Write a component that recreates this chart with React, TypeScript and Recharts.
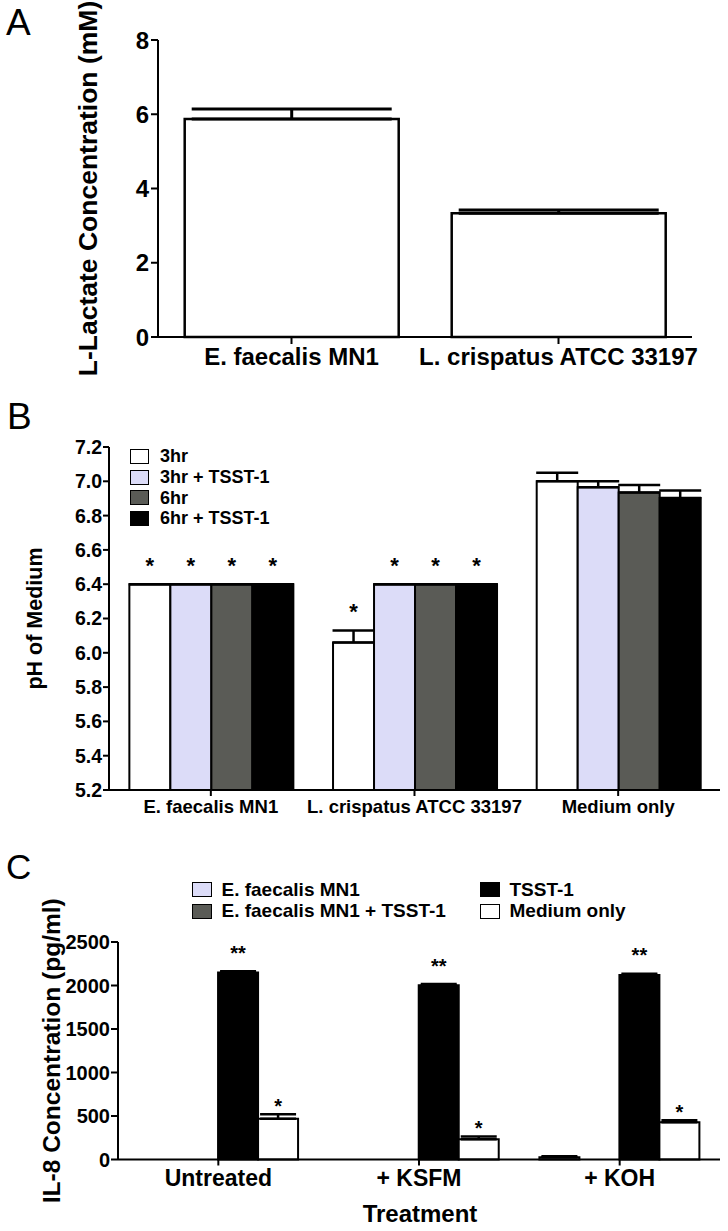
import React from 'react';
import { BarChart, Bar, XAxis, YAxis, ErrorBar, LabelList, Legend } from 'recharts';

const FONT = "'Liberation Sans', Arial, Helvetica, sans-serif";
const LAVENDER = '#dcdcf8';
const DARK_GRAY = '#5a5b56';

// A: L-lactate
const lactateStrains = ['E. faecalis MN1', 'L. crispatus ATCC 33197'];
const lactateMean = [5.87, 3.33];
const lactateSem = [0.27, 0.09];
const lactateTicks = [0, 2, 4, 6, 8];

// B: pH of medium
const phGroups = ['E. faecalis MN1', 'L. crispatus ATCC 33197', 'Medium only'];
const ph3hr = [6.4, 6.06, 7.0];
const ph3hrSem = [0, 0.07, 0.05];
const ph3hrTsst = [6.4, 6.4, 6.965];
const ph3hrTsstSem = [0, 0, 0.035];
const ph6hr = [6.4, 6.4, 6.935];
const ph6hrSem = [0, 0, 0.043];
const ph6hrTsst = [6.4, 6.4, 6.902];
const ph6hrTsstSem = [0, 0, 0.045];
const phStars = ['*', '*', ''];
const phTicks = [5.2, 5.4, 5.6, 5.8, 6.0, 6.2, 6.4, 6.6, 6.8, 7.0, 7.2];

// C: IL-8
const treatments = ['Untreated', '+ KSFM', '+ KOH'];
const il8Ef = [0, 0, 25];
const il8EfSem = [0, 0, 12];
const il8EfTsst = [0, 0, 0];
const il8EfTsstSem = [0, 0, 0];
const il8Tsst = [2148, 2004, 2120];
const il8TsstSem = [15, 14, 15];
const il8Medium = [467, 233, 428];
const il8MediumSem = [52, 30, 22];
const il8TsstStars = ['**', '**', '**'];
const il8MediumStars = ['*', '*', '*'];
const il8Ticks = [0, 500, 1000, 1500, 2000, 2500];

const lactateData = lactateStrains.map((name, i) => ({
  name,
  mean: lactateMean[i],
  err: [0, lactateSem[i]],
}));

const phData = phGroups.map((name, i) => ({
  name,
  h3: ph3hr[i],
  h3e: [0, ph3hrSem[i]],
  h3t: ph3hrTsst[i],
  h3te: [0, ph3hrTsstSem[i]],
  h6: ph6hr[i],
  h6e: [0, ph6hrSem[i]],
  h6t: ph6hrTsst[i],
  h6te: [0, ph6hrTsstSem[i]],
  star: phStars[i],
}));

const il8Data = treatments.map((name, i) => ({
  name,
  ef: il8Ef[i],
  efe: [0, il8EfSem[i]],
  eft: il8EfTsst[i],
  efte: [0, il8EfTsstSem[i]],
  tsst: il8Tsst[i],
  tsste: [0, il8TsstSem[i]],
  med: il8Medium[i],
  mede: [0, il8MediumSem[i]],
  s2: il8TsstStars[i],
  s1: il8MediumStars[i],
}));

const tickStyle = (size: number) => ({ fill: '#000', fontSize: size, fontWeight: 700, fontFamily: FONT });
const axisLine = { stroke: '#000', strokeWidth: 2 };

// asterisk placed above the top of the error bar
const starContent =
  (stars: string[], means: number[], sems: number[], base: number, lift: number, size: number) =>
  (props: any) => {
    const i = props.index;
    const mark = stars[i];
    if (!mark) return null;
    const box = props.viewBox ?? props;
    const h = Math.abs(box.height);
    const span = means[i] - base;
    const errPx = span > 0 ? (h / span) * sems[i] : 0;
    const top = Math.min(box.y, box.y + box.height);
    return (
      <text
        x={box.x + box.width / 2}
        y={top - errPx - lift + size * 0.58}
        textAnchor="middle"
        fontSize={size}
        fontWeight={700}
        fontFamily={FONT}
        fill="#000"
      >
        {mark}
      </text>
    );
  };

const sideTitle = (text: string, cx: number, size: number) => (props: any) => {
  const vb = props.viewBox;
  const cy = vb.y + vb.height / 2;
  return (
    <text
      x={cx}
      y={cy}
      transform={`rotate(-90 ${cx} ${cy})`}
      textAnchor="middle"
      dominantBaseline="central"
      fontSize={size}
      fontWeight={700}
      fontFamily={FONT}
      fill="#000"
    >
      {text}
    </text>
  );
};

const bottomTitle = (text: string, cx: number, cy: number, size: number) => () => (
  <text x={cx} y={cy} textAnchor="middle" dominantBaseline="central" fontSize={size} fontWeight={700} fontFamily={FONT} fill="#000">
    {text}
  </text>
);

const keepOrder = () => 0;

const legendB = (props: any) => (
  <div style={{ fontFamily: FONT, fontWeight: 700, fontSize: 18, color: '#000' }}>
    {props.payload.map((p: any) => (
      <div key={p.value} style={{ display: 'flex', alignItems: 'center', height: 20.8 }}>
        <span
          style={{
            display: 'inline-block',
            width: 19,
            height: 15,
            boxSizing: 'border-box',
            border: '1.5px solid #000',
            background: p.color,
            marginRight: 11,
          }}
        />
        <span>{p.value}</span>
      </div>
    ))}
  </div>
);

const legendC = (props: any) => (
  <div
    style={{
      display: 'grid',
      gridTemplateRows: 'repeat(2, 21.5px)',
      gridTemplateColumns: '288px auto',
      gridAutoFlow: 'column',
      fontFamily: FONT,
      fontWeight: 700,
      fontSize: 19,
      color: '#000',
    }}
  >
    {props.payload.map((p: any) => (
      <div key={p.value} style={{ display: 'flex', alignItems: 'center' }}>
        <span
          style={{
            display: 'inline-block',
            width: 20,
            height: 15,
            boxSizing: 'border-box',
            border: '1.5px solid #000',
            background: p.color,
            marginRight: 10,
          }}
        />
        <span style={{ whiteSpace: 'nowrap' }}>{p.value}</span>
      </div>
    ))}
  </div>
);

const panelLetter = (letter: string, left: number, top: number, size: number) => (
  <div
    style={{
      position: 'absolute',
      left,
      top,
      fontFamily: FONT,
      fontSize: size,
      lineHeight: 1,
      color: '#000',
    }}
  >
    {letter}
  </div>
);

const App: React.FC = () => {
  return (
    <div style={{ position: 'absolute', left: 0, top: 0, width: 728, height: 1231, background: '#fff' }}>
      {panelLetter('A', 6, 4, 37)}
      {panelLetter('B', 7, 398, 37)}
      {panelLetter('C', 6, 849, 35)}

      <div style={{ position: 'absolute', left: 0, top: 0 }}>
        <BarChart width={728} height={380} data={lactateData} margin={{ top: 40, right: 36, bottom: 0, left: 0 }} barCategoryGap="10%">
          <XAxis
            dataKey="name"
            height={43}
            interval={0}
            tick={tickStyle(24)}
            tickSize={7}
            tickMargin={4}
            axisLine={axisLine}
            tickLine={axisLine}
          />
          <YAxis
            width={158}
            domain={[0, 8]}
            ticks={lactateTicks}
            tick={tickStyle(24)}
            tickSize={7}
            tickMargin={2}
            axisLine={axisLine}
            tickLine={axisLine}
            label={sideTitle('L-Lactate Concentration (mM)', 88, 26.5)}
          />
          <Bar dataKey="mean" fill="#fff" stroke="#000" strokeWidth={2.5} isAnimationActive={false}>
            <ErrorBar dataKey="err" width={100} stroke="#000" strokeWidth={3} direction="y" />
          </Bar>
        </BarChart>
      </div>

      <div style={{ position: 'absolute', left: 0, top: 370 }}>
        <BarChart
          width={728}
          height={460}
          data={phData}
          margin={{ top: 77, right: 8, bottom: 0, left: 0 }}
          barCategoryGap="10%"
          barGap={0}
        >
          <XAxis
            dataKey="name"
            height={40}
            interval={0}
            tick={tickStyle(18.5)}
            tickSize={6}
            tickMargin={4}
            axisLine={axisLine}
            tickLine={axisLine}
          />
          <YAxis
            width={109}
            domain={[5.2, 7.2]}
            ticks={phTicks}
            tickFormatter={(v: number) => v.toFixed(1)}
            tick={tickStyle(19.5)}
            tickSize={6}
            tickMargin={1}
            axisLine={axisLine}
            tickLine={axisLine}
            label={sideTitle('pH of Medium', 35, 21.5)}
          />
          <Legend
            layout="vertical"
            align="center"
            verticalAlign="middle"
            itemSorter={keepOrder}
            content={legendB}
            wrapperStyle={{ left: 130, top: 76, width: 200 }}
          />
          <Bar dataKey="h3" name="3hr" fill="#fff" stroke="#000" strokeWidth={2} isAnimationActive={false}>
            <ErrorBar dataKey="h3e" width={21} stroke="#000" strokeWidth={2.5} direction="y" />
            <LabelList dataKey="star" content={starContent(phStars, ph3hr, ph3hrSem, 5.2, 24, 22)} />
          </Bar>
          <Bar dataKey="h3t" name="3hr + TSST-1" fill={LAVENDER} stroke="#000" strokeWidth={2} isAnimationActive={false}>
            <ErrorBar dataKey="h3te" width={21} stroke="#000" strokeWidth={2.5} direction="y" />
            <LabelList dataKey="star" content={starContent(phStars, ph3hrTsst, ph3hrTsstSem, 5.2, 24, 22)} />
          </Bar>
          <Bar dataKey="h6" name="6hr" fill={DARK_GRAY} stroke="#000" strokeWidth={2} isAnimationActive={false}>
            <ErrorBar dataKey="h6e" width={21} stroke="#000" strokeWidth={2.5} direction="y" />
            <LabelList dataKey="star" content={starContent(phStars, ph6hr, ph6hrSem, 5.2, 24, 22)} />
          </Bar>
          <Bar dataKey="h6t" name="6hr + TSST-1" fill="#000" stroke="#000" strokeWidth={2} isAnimationActive={false}>
            <ErrorBar dataKey="h6te" width={21} stroke="#000" strokeWidth={2.5} direction="y" />
            <LabelList dataKey="star" content={starContent(phStars, ph6hrTsst, ph6hrTsstSem, 5.2, 24, 22)} />
          </Bar>
        </BarChart>
      </div>

      <div style={{ position: 'absolute', left: 0, top: 830 }}>
        <BarChart
          width={728}
          height={401}
          data={il8Data}
          margin={{ top: 112, right: 8, bottom: 0, left: 0 }}
          barCategoryGap="10%"
          barGap={0}
        >
          <XAxis
            dataKey="name"
            height={71.5}
            interval={0}
            tick={tickStyle(23)}
            tickSize={6}
            tickMargin={4}
            axisLine={axisLine}
            tickLine={axisLine}
            label={bottomTitle('Treatment', 420, 383, 24)}
          />
          <YAxis
            width={118}
            domain={[0, 2500]}
            ticks={il8Ticks}
            tick={tickStyle(20)}
            tickSize={7}
            tickMargin={1}
            axisLine={axisLine}
            tickLine={axisLine}
            label={sideTitle('IL-8 Concentration (pg/ml)', 51, 24.5)}
          />
          <Legend
            layout="vertical"
            align="center"
            verticalAlign="middle"
            itemSorter={keepOrder}
            content={legendC}
            wrapperStyle={{ left: 191.5, top: 49, width: 500 }}
          />
          <Bar dataKey="ef" name="E. faecalis MN1" fill={LAVENDER} stroke="#000" strokeWidth={2} isAnimationActive={false}>
            <ErrorBar dataKey="efe" width={18} stroke="#000" strokeWidth={2.5} direction="y" />
          </Bar>
          <Bar dataKey="eft" name="E. faecalis MN1 + TSST-1" fill={DARK_GRAY} stroke="#000" strokeWidth={2} isAnimationActive={false}>
            <ErrorBar dataKey="efte" width={18} stroke="#000" strokeWidth={2.5} direction="y" />
          </Bar>
          <Bar dataKey="tsst" name="TSST-1" fill="#000" stroke="#000" strokeWidth={2} isAnimationActive={false}>
            <ErrorBar dataKey="tsste" width={18} stroke="#000" strokeWidth={2.5} direction="y" />
            <LabelList dataKey="s2" content={starContent(il8TsstStars, il8Tsst, il8TsstSem, 0, 23, 20)} />
          </Bar>
          <Bar dataKey="med" name="Medium only" fill="#fff" stroke="#000" strokeWidth={2} isAnimationActive={false}>
            <ErrorBar dataKey="mede" width={18} stroke="#000" strokeWidth={2.5} direction="y" />
            <LabelList dataKey="s1" content={starContent(il8MediumStars, il8Medium, il8MediumSem, 0, 13, 20)} />
          </Bar>
        </BarChart>
      </div>
    </div>
  );
};

export default App;
